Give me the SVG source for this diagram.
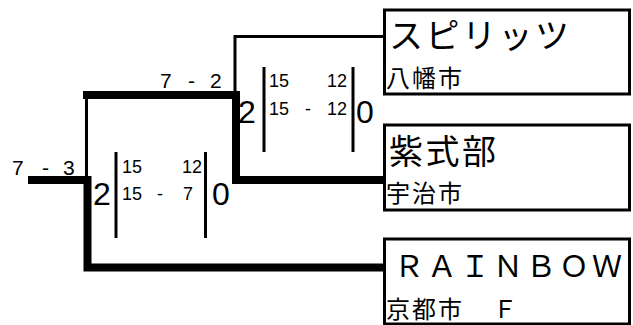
<svg xmlns="http://www.w3.org/2000/svg" width="633" height="325" viewBox="0 0 633 325">
<style>
  .thick { stroke:#000; stroke-width:8; fill:none; stroke-linecap:square; }
  .thin { stroke:#000; stroke-width:3; fill:none; }
  .bar { stroke:#000; stroke-width:3; }
  .box { fill:#fff; stroke:#000; stroke-width:3; }
  .lat { font-family:"Liberation Sans", Arial, sans-serif; fill:#000; }
  .jp { font-family:"Noto Sans CJK JP", "Noto Sans", sans-serif; fill:#000; }
  .big { font-size:32px; }
  .sm { font-size:18px; }
  .score { font-size:21px; }
  .name { font-size:34px; letter-spacing:2.5px; }
  .city { font-size:24px; letter-spacing:2px; }
</style>
<g id="connectors">
  <polyline class="thin" points="383,36.5 235,36.5 235,95"/>
  <polyline class="thick" points="383,180 236,180 236,95 87,95"/>
  <polyline class="thin" points="86.5,95 86.5,180"/>
  <polyline class="thick" points="383,267.5 87.5,267.5 87.5,180 32,180"/>
</g>
<g id="score-final">
  <text class="lat score" x="12 26 42 53 63" y="175">7 - 3</text>
  <line class="bar" x1="116" y1="152" x2="116" y2="238"/>
  <line class="bar" x1="205.5" y1="152" x2="205.5" y2="238"/>
  <text class="lat big" x="93" y="205">2</text>
  <text class="lat sm" x="122" y="173">15</text>
  <text class="lat sm" x="182" y="173">12</text>
  <text class="lat sm" x="122" y="200">15</text>
  <text class="lat sm" x="157" y="200">-</text>
  <text class="lat sm" x="183" y="200">7</text>
  <text class="lat big" x="212" y="205">0</text>
</g>
<g id="score-semi">
  <text class="lat score" x="160 174 188 199 210" y="88">7 - 2</text>
  <line class="bar" x1="264" y1="67" x2="264" y2="152"/>
  <line class="bar" x1="353" y1="67" x2="353" y2="152"/>
  <text class="lat big" x="238" y="123">2</text>
  <text class="lat sm" x="269" y="87">15</text>
  <text class="lat sm" x="327" y="87">12</text>
  <text class="lat sm" x="269" y="115">15</text>
  <text class="lat sm" x="305" y="115">-</text>
  <text class="lat sm" x="327" y="115">12</text>
  <text class="lat big" x="356" y="123">0</text>
</g>
<g id="team-spirits">
  <rect class="box" x="384.5" y="10" width="245" height="84"/>
  <text class="jp name" x="389" y="48">スピリッツ</text>
  <text class="jp city" x="386" y="87">八幡市</text>
</g>
<g id="team-murasaki">
  <rect class="box" x="384.5" y="125" width="245" height="85"/>
  <text class="jp name" x="389" y="164">紫式部</text>
  <text class="jp city" x="386" y="202">宇治市</text>
</g>
<g id="team-rainbow">
  <rect class="box" x="384.5" y="239" width="245" height="85"/>
  <text class="jp" font-size="30" letter-spacing="3" x="394" y="277">ＲＡＩＮＢＯＷ</text>
  <text class="jp city" x="386 412 438 464 493" y="318">京都市　Ｆ</text>
</g>
</svg>
